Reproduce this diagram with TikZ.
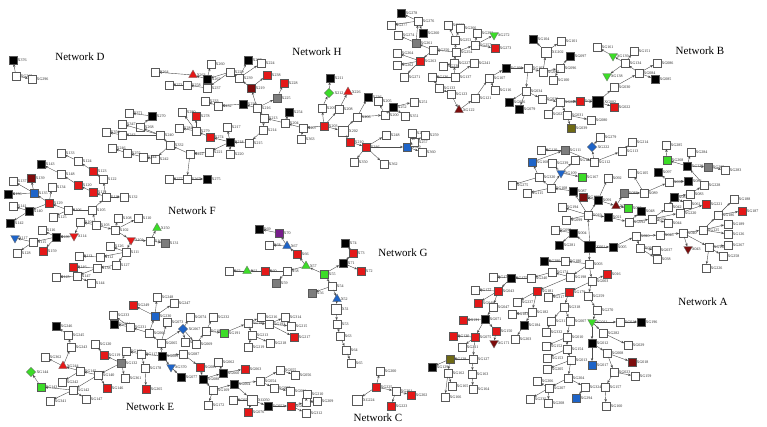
\documentclass[tikz,border=0pt]{standalone}
\usepackage{fontspec}
\setmainfont{Liberation Serif}
\usetikzlibrary{shapes.geometric, arrows.meta}
\definecolor{nred}{RGB}{228,24,24}
\definecolor{ngreen}{RGB}{60,220,40}
\definecolor{nblue}{RGB}{30,100,200}
\definecolor{ngray}{RGB}{125,125,125}
\definecolor{ndark}{RGB}{125,12,12}
\definecolor{nolive}{RGB}{110,105,20}
\definecolor{npurple}{RGB}{120,30,140}

\begin{document}
\begin{tikzpicture}[x=1pt,y=-1pt,
  sqr/.style={rectangle,draw=black!65,line width=0.4pt,minimum size=7.5pt,inner sep=0pt},
  wsq/.style={sqr,fill=white},
  ksq/.style={sqr,fill=black},
  rsq/.style={sqr,fill=nred},
  gsq/.style={sqr,fill=ngreen},
  bsq/.style={sqr,fill=nblue},
  ysq/.style={sqr,fill=ngray},
  dsq/.style={sqr,fill=ndark},
  osq/.style={sqr,fill=nolive},
  psq/.style={sqr,fill=npurple},
  Wsq/.style={sqr,fill=white,minimum size=10pt},
  Ksq/.style={sqr,fill=black,minimum size=11pt},
  tri/.style={regular polygon,regular polygon sides=3,draw=black!60,line width=0.3pt,minimum size=10pt,inner sep=0pt},
  rtri/.style={tri,fill=nred},
  gtri/.style={tri,fill=ngreen},
  btri/.style={tri,fill=nblue},
  dtri/.style={tri,fill=ndark},
  ginv/.style={tri,fill=ngreen,shape border rotate=180},
  binv/.style={tri,fill=nblue,shape border rotate=180},
  rinv/.style={tri,fill=nred,shape border rotate=180},
  dinv/.style={tri,fill=ndark,shape border rotate=180},
  dia/.style={diamond,draw=black!60,line width=0.3pt,minimum size=9.5pt,inner sep=0pt},
  gdia/.style={dia,fill=ngreen},
  bdia/.style={dia,fill=nblue},
  lbl/.style={font=\fontsize{4}{4.5}\selectfont,inner sep=0.5pt,text=black!85},
  ttl/.style={font=\fontsize{11}{13}\selectfont},
  fl/.style={-{Stealth[length=3pt,width=2.4pt]},line width=0.4pt,draw=black!70}
]
  \useasboundingbox (0,0) rectangle (767,426);

  % network titles
  \node[ttl] (netD) at (80,57)   {Network D};
  \node[ttl] (netH) at (317,52)  {Network H};
  \node[ttl] (netB) at (700,51)  {Network B};
  \node[ttl] (netF) at (192,211) {Network F};
  \node[ttl] (netG) at (403,253) {Network G};
  \node[ttl] (netA) at (703,302) {Network A};
  \node[ttl] (netE) at (150,407) {Network E};
  \node[ttl] (netC) at (378,418) {Network C};

  % Network D
  \foreach \s/\nm/\x/\y in {ksq/X376/13/60, wsq/XG212/16/76, wsq/XG296/32/79}
    \node[\s,label={[lbl]right:\nm}] (\nm) at (\x,\y) {};

  % Network H
  \foreach \s/\nm/\x/\y in {wsq/X264/155/72, rtri/X263/193/75, ksq/X262/207/79, wsq/X260/211/64,
    wsq/X229/230/72, ksq/X227/248/60, wsq/X239/239/78, wsq/X224/261/63, wsq/X271/169/85,
    wsq/X258/187/85, wsq/X237/207/88, dsq/X219/251/88, rsq/X238/267/75, rsq/X228/284/83,
    ysq/X225/277/98, wsq/X233/205/101, wsq/X232/218/106, ksq/X230/243/104, wsq/X216/257/108,
    wsq/X213/264/118, wsq/X214/263/130, wsq/X215/249/143, ksq/X218/230/142, wsq/X217/227/127,
    rsq/X274/210/137, wsq/X279/196/131, rsq/X278/196/116, wsq/X280/182/112, wsq/X281/179/128,
    wsq/X220/230/154, wsq/X221/209/152, wsq/X222/190/154, wsq/X267/187/179, wsq/X277/169/179,
    ksq/X275/207/179, wsq/X332/170/145, wsq/X240/160/135, wsq/X268/140/127, ksq/X270/152/116,
    wsq/X371/129/113, wsq/X347/122/124, wsq/X243/122/135, wsq/X356/106/132, wsq/X242/155/159,
    wsq/X244/143/157, wsq/X255/127/153, wsq/X246/112/148,
    wsq/X204/285/123, ksq/X254/289/112, wsq/X207/303/128, wsq/X363/301/139, rsq/X203/324/126,
    wsq/X209/322/108, gdia/X212/329/93, ksq/X211/330/78, wsq/X208/339/109, rtri/X226/348/92,
    Wsq/X202/343/131, rsq/X210/350/142, rsq/X346/366/147, wsq/X350/354/162, wsq/X362/384/164,
    wsq/X248/386/135, bsq/X349/407/147, wsq/X257/414/142, wsq/X272/412/133, wsq/X259/425/135,
    wsq/X360/422/152, wsq/X206/357/117, ksq/X236/368/97, wsq/X200/385/115, wsq/X205/378/101,
    ksq/X252/393/107, wsq/X251/414/102, wsq/X351/405/116}
    \node[\s,label={[lbl]right:\nm}] (\nm) at (\x,\y) {};

  % Network B
  \foreach \s/\nm/\x/\y in {ksq/XG278/401/13, wsq/XG276/418/21, wsq/XG277/391/25, ksq/XG260/423/33,
    wsq/XG274/398/35, ysq/XG261/416/43, wsq/XG250/433/50, wsq/XG264/397/53, rsq/XG263/420/61,
    wsq/XG262/397/65, wsq/XG271/404/77, wsq/XG255/448/25, wsq/XG266/460/28, wsq/XG253/455/40,
    wsq/XG254/456/52, wsq/XG227/454/63, wsq/XG238/443/66, wsq/XG252/477/33, wsq/XG257/475/45,
    ginv/XG272/494/35, rsq/XG273/495/48, wsq/XG241/474/63, wsq/XG137/455/77, wsq/XG136/432/77,
    wsq/XG133/439/88, wsq/XG123/451/94, dtri/XG122/459/110, wsq/XG121/475/98, wsq/XG107/489/78,
    wsq/XG116/495/90, ksq/XG106/506/68, wsq/XG103/528/68, ksq/XG104/533/39, wsq/XG101/561/41,
    Wsq/XG102/546/52, ksq/XG097/570/56, wsq/XG096/560/68, wsq/XG100/553/80, wsq/XG095/543/72,
    wsq/XG034/526/91, ksq/XG036/509/102, ksq/XG079/519/109, wsq/XG033/542/99, wsq/XG028/560/102,
    wsq/XG027/548/114, wsq/XG031/567/115, osq/XG039/571/128, wsq/XG080/591/120, rsq/XG024/580/101,
    Ksq/XG002/598/102, rsq/XG022/614/107, wsq/XG030/614/87, wsq/XG084/639/73, ksq/XG085/655/79,
    wsq/XG086/657/63, wsq/XG134/625/63, ginv/XG139/613/56, wsq/XG161/597/47, wsq/XG151/634/51,
    ginv/XG138/607/76,
    wsq/XG279/600/137, bdia/XG222/592/147, wsq/XG214/632/142, wsq/XG113/622/151, wsq/XG112/594/162,
    ysq/XG111/565/150, wsq/XG110/541/150, wsq/XG285/666/145, wsq/XG284/691/152, gsq/XG268/667/160,
    ksq/XG229/687/166, ysq/XG269/708/167, wsq/XG283/725/170, bsq/XG168/532/162, wsq/XG239/552/163,
    binv/XG109/561/173, wsq/XG124/575/160, gsq/XG167/582/177, wsq/XG275/512/185, wsq/XG115/527/193,
    wsq/XG108/551/188, wsq/XG320/539/177, ksq/X087/573/191, dsq/XG199/583/197, ksq/X091/598/200,
    wsq/X092/608/178, dtri/X095/616/206, ysq/X088/624/193, gsq/X090/628/208, wsq/XG194/562/207,
    wsq/X019/588/215, ksq/X021/608/217, wsq/XG099/566/220, wsq/XG105/632/173, wsq/X089/644/193,
    ksq/X097/658/172, wsq/X093/669/182, ksq/X082/688/181, wsq/X083/690/194, wsq/XG228/704/185,
    ksq/X081/674/197, wsq/X061/687/204, wsq/X042/668/207, ksq/X048/641/211, wsq/X039/652/219,
    wsq/XG092/629/222, wsq/X044/668/223, wsq/XG220/680/213, rsq/XG221/706/204, wsq/X040/683/233,
    wsq/XG125/703/230, wsq/XG186/718/215, wsq/XG188/734/199, rsq/XG187/742/211, wsq/XG189/728/224,
    wsq/XG126/728/234, dinv/X043/688/249, wsq/XG158/709/247, wsq/XG267/728/245, wsq/XG258/723/256,
    wsq/XG226/706/268, wsq/X046/660/235, wsq/X020/636/236, wsq/X036/640/248, wsq/XG037/656/250,
    wsq/X038/657/259, ksq/X005/613/247, Ksq/X001/590/247, ksq/X004/573/233, wsq/XG098/555/230,
    ksq/XG281/559/245, ksq/XG280/544/261, wsq/XG180/565/261, wsq/X003/589/264, rsq/X016/607/274}
    \node[\s,label={[lbl]right:\nm}] (\nm) at (\x,\y) {};

  % Network A
  \foreach \s/\nm/\x/\y in {wsq/XG198/570/277, wsq/XG174/552/272, wsq/XG240/531/278, ksq/XG175/511/278,
    wsq/XG176/493/277, rsq/XG043/498/291, wsq/XG177/475/290, rsq/XG048/478/303, wsq/XG047/493/307,
    ksq/XG071/485/319, rsq/XG131/463/320, rsq/XG075/475/337, rsq/XG130/453/336, wsq/XG211/462/347,
    rsq/XG150/496/331, dinv/XG171/494/343, wsq/XG127/473/359, osq/XG128/450/359, ksq/XG129/432/367,
    wsq/XG163/472/374, wsq/XG164/473/389, wsq/XG162/448/373, wsq/XG165/452/386, wsq/XG166/445/397,
    rsq/XG181/537/291, wsq/XG237/517/302, wsq/XG182/532/312, wsq/XG183/512/314, ksq/XG184/524/325,
    wsq/XG203/515/339, wsq/XG003/592/281, rsq/XG179/569/292, wsq/XG317/548/297, wsq/XG318/564/307,
    wsq/XG311/551/321, wsq/XG332/546/332, wsq/XG007/570/321, wsq/XG010/567/337, wsq/XG152/546/346,
    wsq/XG154/567/349, wsq/XG153/547/358, wsq/XG013/571/360, wsq/XG205/547/369, wsq/XG204/568/378,
    wsq/XG207/549/388, wsq/XG206/537/381, wsq/XG235/530/399, wsq/XG208/548/403, wsq/XG324/585/387,
    bsq/XG294/576/398, wsq/XG259/588/296, wsq/XG270/597/310, ginv/XG011/592/322, wsq/XG014/620/322,
    ksq/XG196/641/322, wsq/XG282/603/333, wsq/XG029/628/345, ksq/XG012/592/343, bsq/XG017/592/365,
    wsq/XG008/607/353, dsq/XG018/632/362, wsq/XG023/614/372, wsq/XG159/635/376, wsq/XG157/605/387,
    wsq/XG160/606/406}
    \node[\s,label={[lbl]right:\nm}] (\nm) at (\x,\y) {};

  % Network F
  \foreach \s/\nm/\x/\y in {wsq/X133/61/153, ksq/X143/41/164, wsq/X124/78/161, rsq/X123/93/171,
    wsq/X122/103/179, wsq/X148/61/174, dsq/X139/31/178, wsq/X137/13/181, ksq/X136/8/194,
    bsq/X135/34/193, wsq/X134/52/187, rsq/X120/78/185, rsq/X119/93/192, wsq/X118/106/197,
    wsq/X132/124/197, rsq/X129/49/203, wsq/X141/13/206, ksq/X140/29/211, ksq/X142/10/223,
    wsq/X106/68/210, wsq/X125/53/217, wsq/X105/92/210, wsq/X104/80/222, wsq/X103/96/225,
    wsq/X108/118/218, wsq/X110/138/218, wsq/X102/115/230, wsq/X116/42/230, ksq/X109/56/237,
    rinv/X114/74/236, binv/X117/15/238, wsq/X115/33/242, wsq/X128/17/253, rsq/X159/43/251,
    rinv/X101/131/240, wsq/X111/126/252, wsq/X126/110/246, wsq/X113/79/256, wsq/X112/100/257,
    wsq/X127/116/265, wsq/X138/97/268, rsq/X146/73/267, wsq/X145/56/277, wsq/X147/77/276,
    wsq/X144/91/283, wsq/X107/150/241, gtri/X150/157/228, ysq/X131/165/243}
    \node[\s,label={[lbl]right:\nm}] (\nm) at (\x,\y) {};

  % Network G
  \foreach \s/\nm/\x/\y in {ksq/X69/259/229, psq/X70/279/233, wsq/X68/269/245, btri/X67/287/246,
    rsq/X66/297/254, gtri/X57/306/266, gsq/X55/324/274, wsq/X62/229/271, gtri/X61/247/271,
    rsq/X60/265/271, wsq/X58/287/271, ysq/X59/276/283, ksq/X71/343/263, rsq/X73/353/253,
    ksq/X74/345/243, rsq/X72/361/271, wsq/X54/332/286, ysq/X56/312/293, btri/X52/337/299,
    Wsq/X51/336/309, wsq/X53/337/324, wsq/X63/340/336, wsq/X64/346/350, wsq/X65/351/363}
    \node[\s,label={[lbl]right:\nm}] (\nm) at (\x,\y) {};

  % Network C
  \foreach \s/\nm/\x/\y in {rsq/XG225/376/387, wsq/XG200/380/371, Wsq/XG224/357/400,
    wsq/XG201/396/391, rsq/XG202/411/395, rsq/XG223/391/406}
    \node[\s,label={[lbl]right:\nm}] (\nm) at (\x,\y) {};

  % Network E
  \foreach \s/\nm/\x/\y in {ksq/XG246/56/326, wsq/XG245/68/335, wsq/XG243/71/347, wsq/XG362/45/357,
    rtri/XG244/63/366, wsq/XG145/80/371, wsq/XG242/62/382, gdia/XG144/31/372, gsq/XG143/41/387,
    wsq/XG142/73/390, wsq/XG341/50/401, wsq/XG147/86/399, wsq/XG140/98/375, rsq/XG146/107/388,
    ysq/XG132/121/363, rsq/XG119/104/355, wsq/XG120/95/344, wsq/XG118/126/351, wsq/XG117/141/354,
    ksq/XG083/162/356, wsq/XG178/145/368, wsq/XG361/125/378, rsq/XG265/146/389, wsq/XG248/157/297,
    wsq/XG247/174/303, rsq/XG249/133/305, bsq/XG230/155/316, wsq/XG233/113/315, ksq/XG234/114/324,
    wsq/XG231/130/327, wsq/XG066/149/333, wsq/XG073/167/322, wsq/XG074/190/317, bdia/XG067/183/329,
    wsq/XG068/185/342, wsq/XG069/196/344, wsq/XG065/161/343, binv/XG370/171/367, ksq/XG077/181/377,
    wsq/XG087/183/354, rsq/XG089/200/367, ksq/XG088/203/379,
    wsq/XG232/213/317, wsq/XG190/206/331, gsq/XG191/224/333, wsq/XG216/261/317, wsq/XG314/285/317,
    wsq/XG192/248/323, wsq/XG193/269/324, wsq/XG215/291/326, wsq/XG213/252/335, rsq/XG217/294/337,
    wsq/XG219/248/347, wsq/XG218/270/343, wsq/XG062/218/362, rsq/XG063/245/369, ksq/XG060/223/373,
    ksq/XG064/234/384, wsq/XG169/213/390, wsq/XG054/260/381, wsq/XG055/280/370, wsq/XG056/295/375,
    wsq/XG057/274/388, wsq/XG061/290/391, wsq/XG172/208/405, wsq/XG051/233/400, Wsq/XG050/252/400,
    ksq/XG052/268/406, rsq/XG076/248/412, rsq/XG053/291/406, wsq/XG135/306/402, wsq/XG210/307/394,
    wsq/XG209/317/401, wsq/XG312/306/413}
    \node[\s,label={[lbl]right:\nm}] (\nm) at (\x,\y) {};

  % links
  \foreach \a/\b in {XG212/X376, XG212/XG296,
    X213/X216, X216/X230, X230/X232, X232/X233, X216/X225, X225/X228, X216/X219, X219/X238,
    X219/X239, X239/X227, X239/X224, X239/X229, X229/X262, X262/X263, X263/X264, X262/X260,
    X229/X237, X237/X258, X258/X271, X213/X214, X214/X215, X215/X218, X218/X217, X218/X274,
    X274/X279, X279/X278, X279/X280, X279/X281, X218/X220, X218/X221, X221/X222, X222/X267,
    X267/X277, X267/X275, X222/X332, X332/X240, X240/X268, X268/X270, X270/X371, X240/X347,
    X240/X243, X243/X356, X332/X242, X242/X244, X244/X255, X255/X246,
    X204/X213, X204/X254, X207/X204, X207/X363, X203/X207, X203/X209, X209/X212, X212/X211,
    X203/X208, X208/X226, X203/X202, X202/X210, X210/X346, X346/X350, X346/X362, X346/X248,
    X346/X349, X349/X257, X257/X272, X257/X259, X349/X360, X202/X206, X206/X236, X206/X200,
    X200/X205, X200/X252, X252/X251, X252/X351}
    \draw[fl] (\a) -- (\b);

  \foreach \a/\b in {XG254/XG250, XG250/XG261, XG261/XG274, XG261/XG276, XG276/XG278, XG276/XG277,
    XG276/XG260, XG250/XG263, XG263/XG264, XG263/XG262, XG263/XG271, XG254/XG253, XG253/XG255,
    XG253/XG266, XG254/XG257, XG257/XG252, XG257/XG272, XG257/XG273, XG227/XG254, XG227/XG238,
    XG137/XG227, XG137/XG241, XG137/XG136, XG136/XG133, XG133/XG123, XG123/XG122, XG122/XG121,
    XG121/XG107, XG107/XG116, XG107/XG106, XG106/XG103, XG103/XG095, XG095/XG102, XG102/XG104,
    XG102/XG101, XG095/XG096, XG096/XG097, XG096/XG100, XG103/XG034, XG034/XG036, XG034/XG079,
    XG034/XG033, XG033/XG028, XG028/XG027, XG028/XG031, XG031/XG039, XG031/XG080, XG028/XG024,
    XG024/XG002, XG002/XG022, XG002/XG030, XG030/XG084, XG084/XG085, XG084/XG086, XG084/XG134,
    XG134/XG139, XG139/XG161, XG134/XG151, XG134/XG138,
    XG111/XG110, XG111/XG112, XG112/XG222, XG222/XG279, XG112/XG113, XG113/XG214, XG168/XG111,
    XG320/XG168, XG320/XG275, XG108/XG320, XG108/XG115, XG108/XG109, XG109/XG239, XG109/XG124,
    XG109/XG167, X087/XG108, X019/X087, X019/XG194, X019/XG099, X019/X021, X021/XG092,
    XG092/X048, XG092/X039, X039/X042, X039/X044, X039/XG220, XG220/XG221, X042/X081, X081/X061,
    X081/X083, X083/XG228, XG228/XG229, XG229/XG268, XG268/XG285, XG229/XG284, XG229/XG269,
    XG269/XG283, X019/X091, X091/XG199, X091/X092, X091/X095, X095/X090, X095/X088, X088/X089,
    X089/XG105, X089/X093, X093/X097, X093/X082, X001/X019, X001/X005, X005/X020, X020/X046,
    X046/X040, X040/XG125, XG125/XG186, XG186/XG188, XG186/XG187, XG125/XG189, XG125/XG126,
    X040/X043, X040/XG158, XG158/XG267, XG158/XG258, XG158/XG226, X020/X036, X036/XG037,
    X036/X038, X001/X004, X004/XG098, X004/XG281, X001/X003, X003/XG180, XG180/XG280}
    \draw[fl] (\a) -- (\b);

  \foreach \a/\b in {X003/XG198, XG198/XG174, XG174/XG240, XG240/XG175, XG175/XG176, XG175/XG043,
    XG043/XG177, XG043/XG048, XG043/XG047, XG047/XG071, XG071/XG131, XG071/XG075, XG075/XG130,
    XG075/XG211, XG071/XG150, XG150/XG171, XG075/XG127, XG127/XG128, XG128/XG129, XG127/XG163,
    XG163/XG164, XG128/XG162, XG162/XG165, XG162/XG166, XG198/XG181, XG181/XG237, XG181/XG182,
    XG182/XG183, XG182/XG184, XG184/XG203, X003/XG003, XG003/X016, XG003/XG179, XG179/XG317,
    XG179/XG318, XG318/XG311, XG311/XG332, XG318/XG007, XG007/XG010, XG010/XG152, XG010/XG154,
    XG154/XG153, XG154/XG013, XG013/XG205, XG013/XG204, XG204/XG207, XG207/XG206, XG207/XG235,
    XG207/XG208, XG204/XG324, XG324/XG294, XG003/XG259, XG259/XG270, XG270/XG011, XG011/XG014,
    XG014/XG196, XG011/XG282, XG282/XG029, XG011/XG012, XG012/XG017, XG012/XG008, XG008/XG018,
    XG008/XG023, XG023/XG159, XG023/XG157, XG157/XG160}
    \draw[fl] (\a) -- (\b);

  \foreach \a/\b in {X103/X105, X105/X106, X106/X129, X106/X125, X129/X135, X135/X136, X135/X137,
    X135/X139, X129/X134, X129/X140, X140/X141, X140/X142, X105/X118, X118/X132, X118/X122,
    X122/X123, X123/X124, X124/X133, X118/X119, X119/X120, X120/X148, X148/X143, X103/X104,
    X104/X114, X114/X109, X109/X116, X109/X115, X115/X117, X115/X128, X109/X159, X103/X102,
    X102/X108, X102/X110, X102/X101, X101/X107, X107/X150, X107/X131, X101/X111, X111/X126,
    X111/X112, X112/X113, X111/X127, X127/X138, X138/X146, X138/X147, X147/X145, X147/X144,
    X55/X57, X57/X66, X66/X67, X67/X70, X70/X69, X67/X68, X57/X58, X58/X60, X60/X61, X61/X62,
    X58/X59, X55/X71, X71/X73, X73/X74, X71/X72, X55/X54, X54/X56, X54/X52, X52/X51, X51/X53,
    X53/X63, X63/X64, X64/X65,
    XG225/XG200, XG225/XG224, XG225/XG201, XG201/XG202, XG201/XG223}
    \draw[fl] (\a) -- (\b);

  \foreach \a/\b in {XG145/XG244, XG244/XG362, XG244/XG243, XG243/XG245, XG245/XG246, XG145/XG242,
    XG140/XG145, XG140/XG142, XG142/XG143, XG143/XG144, XG142/XG341, XG142/XG147, XG140/XG146,
    XG132/XG140, XG132/XG119, XG119/XG120, XG132/XG361, XG118/XG132, XG117/XG118, XG083/XG117,
    XG117/XG178, XG178/XG265, XG083/XG065, XG065/XG066, XG066/XG231, XG231/XG234, XG231/XG233,
    XG066/XG230, XG230/XG249, XG230/XG248, XG230/XG247, XG065/XG073, XG065/XG067, XG067/XG074,
    XG067/XG068, XG067/XG069, XG069/XG190, XG190/XG232, XG190/XG191, XG191/XG192, XG192/XG216,
    XG192/XG193, XG193/XG314, XG193/XG215, XG193/XG217, XG192/XG213, XG213/XG219, XG213/XG218,
    XG083/XG370, XG370/XG077, XG083/XG087, XG087/XG089, XG089/XG088, XG088/XG060, XG060/XG062,
    XG060/XG063, XG088/XG169, XG169/XG172, XG169/XG064, XG064/XG054, XG054/XG055, XG055/XG056,
    XG054/XG057, XG057/XG061, XG064/XG050, XG050/XG051, XG050/XG076, XG050/XG052, XG052/XG053,
    XG053/XG135, XG135/XG210, XG135/XG209, XG053/XG312}
    \draw[fl] (\a) -- (\b);
\end{tikzpicture}
\end{document}
